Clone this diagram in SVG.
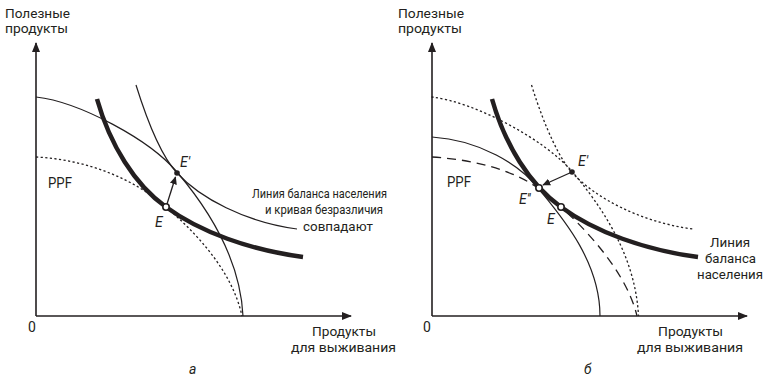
<svg xmlns="http://www.w3.org/2000/svg" width="770" height="381" viewBox="0 0 770 381">
<style>
text{font-family:Roboto,"DejaVu Sans",sans-serif;font-size:14px;fill:#231f20}
.st{font-size:13px}
.it{font-style:italic}
.ax{stroke:#231f20;stroke-width:1.6;fill:none}
.thin{stroke:#231f20;stroke-width:1.2;fill:none}
.thick{stroke:#231f20;stroke-width:4.5;fill:none;stroke-linecap:butt}
.dot{stroke:#231f20;stroke-width:1.3;fill:none;stroke-dasharray:2.2,2.4}
.dash{stroke:#231f20;stroke-width:1.3;fill:none;stroke-dasharray:9,6}
.open{fill:#fff;stroke:#231f20;stroke-width:1.6}
.fill{fill:#231f20}
.arr{stroke:#231f20;stroke-width:1.3;fill:none}
</style>
<defs>
<marker id="axhead" markerUnits="userSpaceOnUse" markerWidth="10" markerHeight="10" viewBox="0 0 10 10" refX="9" refY="5" orient="auto">
<path d="M0,1 L10,5 L0,9 Z" fill="#231f20"/>
</marker>
<marker id="head" markerUnits="userSpaceOnUse" markerWidth="8" markerHeight="8" viewBox="0 0 10 10" refX="9" refY="5" orient="auto">
<path d="M0,0.5 L10,5 L0,9.5 Z" fill="#231f20"/>
</marker>
<path id="thickCurve" d="M97,99 C110,145 135,185 166,207 C200,232 250,250 303,257"/>
<path id="outerPPF" d="M36,97 C80,102 150,140 177,172 C205,205 240,255 243,316"/>
<path id="steepCurve" d="M136,85 C150,130 165,160 177,173 C200,198 245,222 297,229"/>
</defs>

<g id="panel-a">
<g id="axes-a">
<line class="ax" x1="36" y1="316" x2="36" y2="43" marker-end="url(#axhead)"/>
<line class="ax" x1="36" y1="316" x2="351" y2="316" marker-end="url(#axhead)"/>
<text class="st" x="5" y="18" textLength="65" lengthAdjust="spacingAndGlyphs">Полезные</text>
<text class="st" x="5" y="33" textLength="63" lengthAdjust="spacingAndGlyphs">продукты</text>
<text x="28" y="332">0</text>
<text class="st" x="312" y="336" textLength="64" lengthAdjust="spacingAndGlyphs">Продукты</text>
<text class="st" x="291" y="352" textLength="105" lengthAdjust="spacingAndGlyphs">для выживания</text>
<text class="it" x="189" y="374">а</text>
</g>
<g id="curves-a">
<use href="#outerPPF" class="thin"/>
<path class="dot" d="M36,157 C90,160 135,180 166,207 C195,232 232,270 242,316"/>
<use href="#steepCurve" class="thin"/>
<use href="#thickCurve" class="thick"/>
</g>
<g id="connectors-a">
<line class="arr" x1="167" y1="204" x2="175.5" y2="177" marker-end="url(#head)"/>
</g>
<g id="point-E-prime-a">
<circle class="fill" cx="177" cy="173" r="2.8"/>
<text class="it" x="180" y="167">E′</text>
</g>
<g id="point-E-a">
<circle class="open" cx="166" cy="207" r="3.2"/>
<text class="it" x="155" y="227">E</text>
</g>
<text x="48" y="188" textLength="24" lengthAdjust="spacingAndGlyphs">PPF</text>
<text class="st" x="252" y="198" textLength="135" lengthAdjust="spacingAndGlyphs">Линия баланса населения</text>
<text class="st" x="265" y="214" textLength="118" lengthAdjust="spacingAndGlyphs">и кривая безразличия</text>
<text class="st" x="303" y="231" textLength="70" lengthAdjust="spacingAndGlyphs">совпадают</text>
</g>

<g id="panel-b">
<g id="axes-b">
<line class="ax" x1="432" y1="316" x2="432" y2="43" marker-end="url(#axhead)"/>
<line class="ax" x1="432" y1="316" x2="747" y2="316" marker-end="url(#axhead)"/>
<text class="st" x="398" y="18" textLength="66" lengthAdjust="spacingAndGlyphs">Полезные</text>
<text class="st" x="398" y="33" textLength="64" lengthAdjust="spacingAndGlyphs">продукты</text>
<text x="423" y="332">0</text>
<text class="st" x="658" y="336" textLength="65" lengthAdjust="spacingAndGlyphs">Продукты</text>
<text class="st" x="637" y="352" textLength="106" lengthAdjust="spacingAndGlyphs">для выживания</text>
<text class="it" x="584" y="374">б</text>
</g>
<g id="curves-b">
<use href="#outerPPF" class="dot" transform="translate(395.5,0)"/>
<use href="#steepCurve" class="dot" transform="translate(395.5,0)"/>
<path class="thin" d="M432,137 C480,140 520,165 538,188 C560,215 600,260 600,316"/>
<path class="dash" d="M432,157 C480,160 515,172 538,188 C570,212 625,265 637,316"/>
<use href="#thickCurve" class="thick" transform="translate(395,0)"/>
</g>
<g id="connectors-b">
<line class="arr" x1="572" y1="172" x2="543" y2="185" marker-end="url(#head)"/>
</g>
<g id="point-E-prime-b">
<circle class="fill" cx="572" cy="172" r="2.8"/>
<text class="it" x="578" y="166">E′</text>
</g>
<g id="point-E-dprime-b">
<circle class="open" cx="539" cy="188" r="3.2"/>
<text class="it" x="519" y="204">E′′</text>
</g>
<g id="point-E-b">
<circle class="open" cx="561" cy="207" r="3.2"/>
<text class="it" x="547" y="224">E</text>
</g>
<text x="447" y="187" textLength="24" lengthAdjust="spacingAndGlyphs">PPF</text>
<text class="st" x="710" y="247" textLength="40" lengthAdjust="spacingAndGlyphs">Линия</text>
<text class="st" x="705" y="263" textLength="51" lengthAdjust="spacingAndGlyphs">баланса</text>
<text class="st" x="697" y="279" textLength="66" lengthAdjust="spacingAndGlyphs">населения</text>
</g>
</svg>
